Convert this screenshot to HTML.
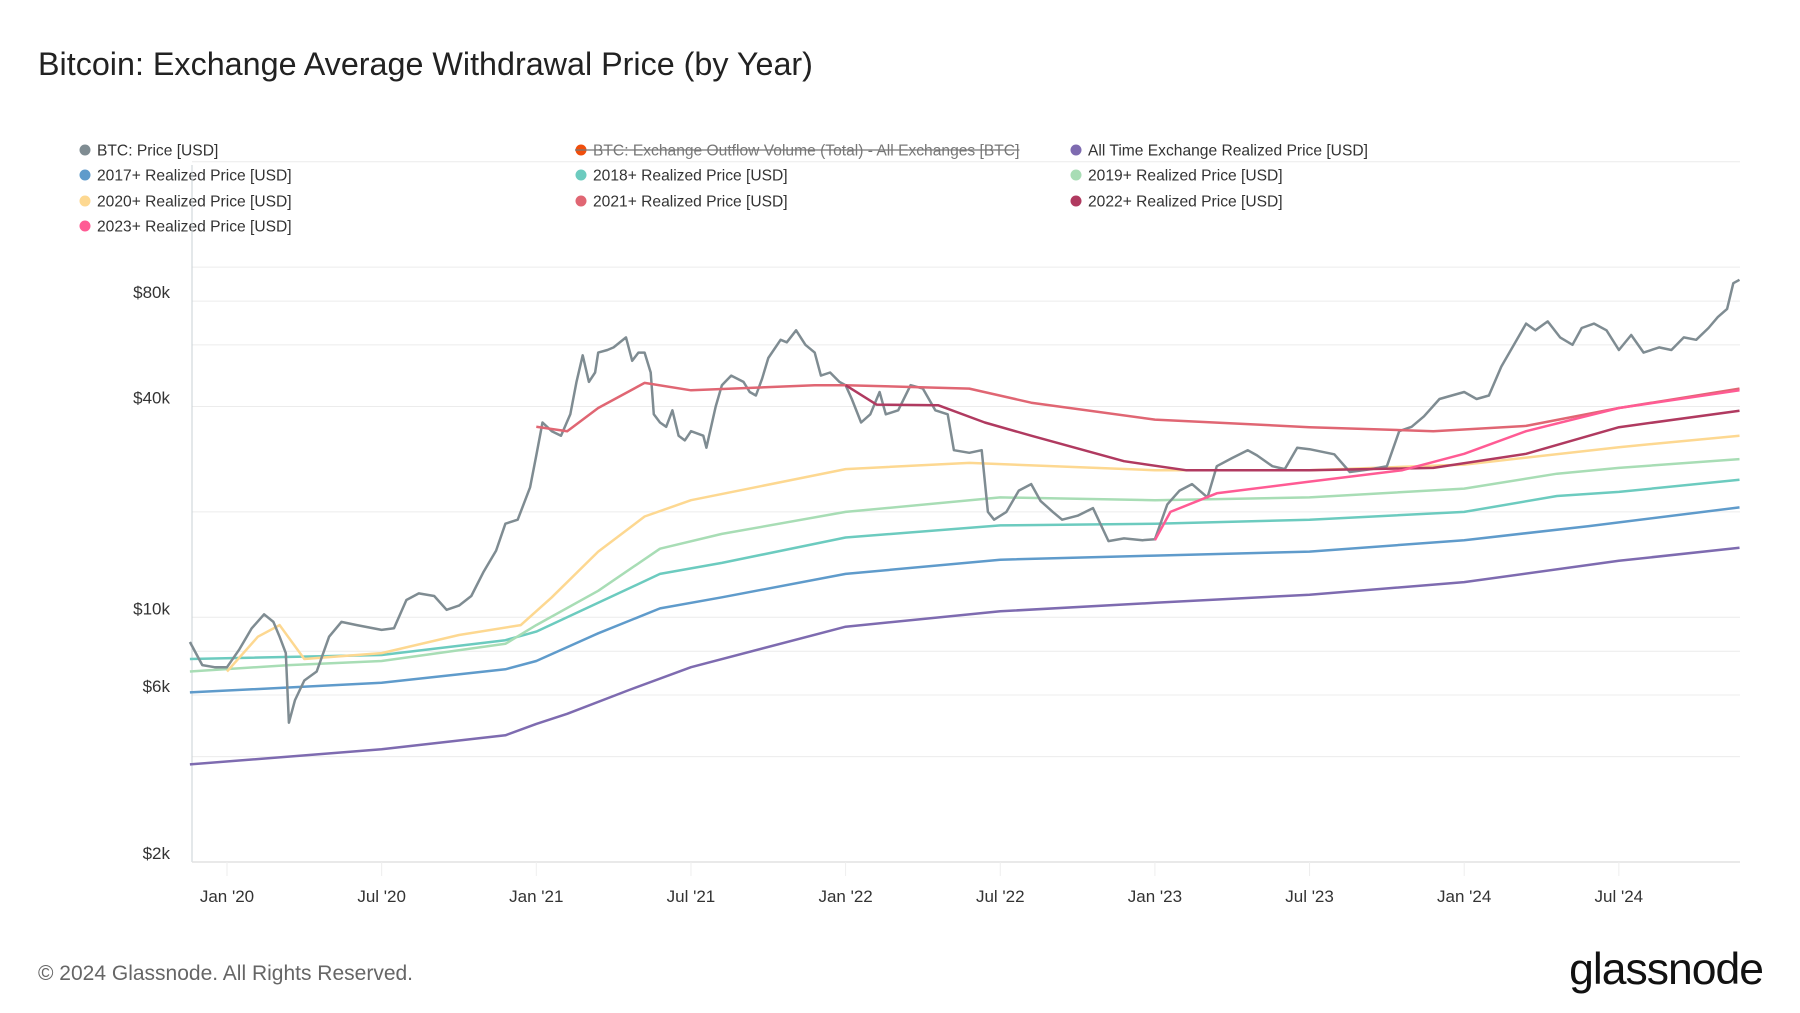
<!DOCTYPE html>
<html><head><meta charset="utf-8"><style>
body{margin:0;background:#fff;width:1800px;height:1013px;overflow:hidden;font-family:"Liberation Sans",sans-serif}
svg{display:block}
</style></head><body>
<svg id="chart" width="1800" height="1013">
<text x="38" y="75" font-size="32.3" fill="#222">Bitcoin: Exchange Average Withdrawal Price (by Year)</text>
<g id="legend"></g>
<g id="grid"></g>
<g id="plot"></g>
<g id="xaxis"></g>
<g id="yaxis"></g>
<text x="38" y="980" font-size="21" fill="#666">© 2024 Glassnode. All Rights Reserved.</text>
<text x="1763" y="984" font-size="44.5" fill="#111" text-anchor="end" letter-spacing="-1">glassnode</text>
</svg>
<script>
const xTickYears=[2020,2020.5,2021,2021.5,2022,2022.5,2023,2023.5,2024,2024.5];
const xTickLabels=["Jan '20","Jul '20","Jan '21","Jul '21","Jan '22","Jul '22","Jan '23","Jul '23","Jan '24","Jul '24"];
const yGridValues=[2000,4000,6000,8000,10000,20000,40000,60000,80000,100000,200000];
const yTickValues=[2000,6000,10000,40000,80000];
const yTickLabels=["$2k","$6k","$10k","$40k","$80k"];
const btcT=[2019.88,2019.92,2019.96,2020.0,2020.04,2020.08,2020.12,2020.15,2020.17,2020.19,2020.2,2020.22,2020.25,2020.29,2020.33,2020.37,2020.42,2020.5,2020.54,2020.58,2020.62,2020.67,2020.71,2020.75,2020.79,2020.83,2020.87,2020.9,2020.94,2020.98,2021.0,2021.02,2021.05,2021.08,2021.11,2021.13,2021.15,2021.17,2021.19,2021.2,2021.23,2021.25,2021.29,2021.31,2021.33,2021.35,2021.37,2021.38,2021.4,2021.42,2021.44,2021.46,2021.48,2021.5,2021.54,2021.55,2021.58,2021.6,2021.63,2021.67,2021.69,2021.71,2021.73,2021.75,2021.79,2021.81,2021.84,2021.87,2021.9,2021.92,2021.95,2021.98,2022.0,2022.02,2022.05,2022.08,2022.11,2022.13,2022.17,2022.21,2022.25,2022.29,2022.33,2022.35,2022.4,2022.44,2022.46,2022.48,2022.52,2022.56,2022.6,2022.63,2022.67,2022.7,2022.75,2022.8,2022.85,2022.9,2022.96,2023.0,2023.04,2023.08,2023.12,2023.17,2023.2,2023.25,2023.3,2023.33,2023.38,2023.42,2023.46,2023.5,2023.58,2023.63,2023.7,2023.75,2023.79,2023.83,2023.87,2023.92,2023.96,2024.0,2024.04,2024.08,2024.12,2024.17,2024.2,2024.23,2024.27,2024.31,2024.35,2024.38,2024.42,2024.46,2024.5,2024.54,2024.58,2024.63,2024.67,2024.71,2024.75,2024.79,2024.82,2024.85,2024.87,2024.89];
const btcV=[8500,7300,7200,7200,8100,9300,10200,9700,8800,7900,5000,5800,6600,7000,8800,9700,9500,9200,9300,11200,11700,11500,10500,10800,11500,13500,15500,18500,19000,23500,29000,36000,34000,33000,38000,47000,56000,47000,50000,57000,58000,59000,63000,54000,57000,57000,50000,38000,36000,35000,39000,33000,32000,34000,33000,30500,40000,46000,49000,47000,44000,43000,48000,55000,62000,61000,66000,60000,57000,49000,50000,47000,46000,42000,36000,38000,44000,38000,39000,46000,45000,39000,38000,30000,29500,30000,20000,19000,20000,23000,24000,21500,20000,19000,19500,20500,16500,16800,16600,16700,21000,23000,24000,22000,27000,28500,30000,29000,27000,26500,30500,30200,29200,26000,26500,27000,34000,35000,37500,42000,43000,44000,42000,43000,52000,62000,69000,66000,70000,63000,60000,67000,69000,66000,58000,64000,57000,59000,58000,63000,62000,67000,72000,76000,90000,92000];
const allT=[2019.88,2020.5,2020.9,2021.0,2021.1,2021.3,2021.5,2022.0,2022.5,2023.0,2023.5,2024.0,2024.5,2024.89];
const allV=[3800,4200,4600,4960,5300,6200,7200,9400,10400,11000,11600,12600,14500,15800];
const r17T=[2019.88,2020.5,2020.9,2021.0,2021.2,2021.4,2021.6,2022.0,2022.5,2023.0,2023.5,2024.0,2024.4,2024.89];
const r17V=[6100,6500,7100,7500,9000,10600,11400,13300,14600,15000,15400,16600,18200,20600];
const r18T=[2019.88,2020.5,2020.9,2021.0,2021.2,2021.4,2021.6,2022.0,2022.5,2023.0,2023.5,2024.0,2024.3,2024.5,2024.89];
const r18V=[7600,7800,8600,9100,11000,13300,14300,16900,18300,18500,19000,20000,22200,22800,24700];
const r19T=[2019.88,2020.2,2020.5,2020.9,2021.0,2021.2,2021.4,2021.6,2022.0,2022.5,2023.0,2023.5,2024.0,2024.3,2024.5,2024.89];
const r19V=[7000,7300,7500,8400,9500,11900,15700,17300,20000,22000,21600,22000,23300,25700,26700,28300];
const r20T=[2020.0,2020.1,2020.17,2020.25,2020.5,2020.75,2020.95,2021.05,2021.2,2021.35,2021.5,2022.0,2022.4,2023.0,2023.5,2024.0,2024.5,2024.89];
const r20V=[7000,8800,9500,7600,7900,8900,9500,11400,15400,19400,21600,26500,27600,26300,26300,27300,30600,33000];
const r21T=[2021.0,2021.1,2021.2,2021.35,2021.5,2021.9,2022.0,2022.4,2022.6,2023.0,2023.5,2023.9,2024.2,2024.5,2024.89];
const r21V=[35000,34000,39600,46700,44500,46000,46000,45000,41000,36700,34900,34000,35200,39600,45000];
const r22T=[2022.0,2022.1,2022.3,2022.45,2022.6,2022.9,2023.1,2023.5,2023.9,2024.2,2024.5,2024.89];
const r22V=[46000,40500,40300,36000,33000,27900,26300,26300,26700,29300,34900,38900];
const r23T=[2023.0,2023.05,2023.2,2023.5,2023.8,2024.0,2024.2,2024.5,2024.89];
const r23V=[16600,20000,22600,24400,26300,29300,34000,39600,44500];

const X0=192,X1=1740,YT=165,YB=862;
const x=t=>227+(t-2020)*309.3;
const y=v=>862-105.4*Math.log2(v/2000);
const NS="http://www.w3.org/2000/svg";
function mk(tag,attrs,parent){const e=document.createElementNS(NS,tag);for(const k in attrs)e.setAttribute(k,attrs[k]);parent.appendChild(e);return e;}
const grid=document.getElementById('grid'),plot=document.getElementById('plot'),xa=document.getElementById('xaxis'),ya=document.getElementById('yaxis'),lg=document.getElementById('legend');
yGridValues.forEach(v=>{const l=mk('line',{x1:X0,x2:X1,y1:y(v),y2:y(v),stroke:'#ececec','stroke-width':1},grid);

});
mk('line',{x1:X0,x2:X0,y1:YT,y2:YB,stroke:'#c8d0d4','stroke-width':1},grid);
mk('line',{x1:X0,x2:X1,y1:YB,y2:YB,stroke:'#e2e2e2','stroke-width':1.5},grid);
yTickValues.forEach((v,i)=>{const t=mk('text',{x:170,y:y(v)-3,'font-size':17,fill:'#333','text-anchor':'end'},ya);t.textContent=yTickLabels[i];

});
xTickYears.forEach((yr,i)=>{mk('line',{x1:x(yr),x2:x(yr),y1:YB,y2:YB+14,stroke:'#eee'},xa);
const t=mk('text',{x:x(yr),y:902,'font-size':17,fill:'#333','text-anchor':'middle'},xa);t.textContent=xTickLabels[i];

});
function series(T,V,color,name,w){const d=T.map((t,i)=>(i?'L':'M')+x(t).toFixed(1)+','+y(V[i]).toFixed(1)).join('');
const p=mk('path',{d:d,fill:'none',stroke:color,'stroke-width':w,'stroke-linejoin':'round'},plot);

}
series(allT,allV,'#7e6bb0','all-time-realized-line',2.5);
series(r17T,r17V,'#5f9bcb','realized-2017-line',2.5);
series(r18T,r18V,'#6ccbbf','realized-2018-line',2.5);
series(r19T,r19V,'#a8ddb5','realized-2019-line',2.5);
series(r20T,r20V,'#fdd891','realized-2020-line',2.5);
series(btcT,btcV,'#7f8c92','btc-price-line',2.5);
series(r21T,r21V,'#e06673','realized-2021-line',2.5);
series(r22T,r22V,'#b03a60','realized-2022-line',2.5);
series(r23T,r23V,'#ff5b94','realized-2023-line',2.5);
const legNames=["BTC: Price [USD]","BTC: Exchange Outflow Volume (Total) - All Exchanges [BTC]","All Time Exchange Realized Price [USD]","2017+ Realized Price [USD]","2018+ Realized Price [USD]","2019+ Realized Price [USD]","2020+ Realized Price [USD]","2021+ Realized Price [USD]","2022+ Realized Price [USD]","2023+ Realized Price [USD]"];
const legColors=['#7f8c92','#f04e0c','#7e6bb0','#5f9bcb','#6ccbbf','#a8ddb5','#fdd891','#e06673','#b03a60','#ff5b94'];
const colX=[85,581,1076],rowY=[150,175,201,226];
legNames.forEach((n,i)=>{const cx=colX[i%3],cy=rowY[Math.floor(i/3)];
const g=mk('g',{},lg);


mk('circle',{cx:cx,cy:cy,r:5.5,fill:legColors[i]},g);
const t=mk('text',{x:cx+12,y:cy+5.5,'font-size':15.6,fill:i==1?'#777':'#333'},g);t.textContent=n;
if(i==1){mk('line',{x1:cx-6,x2:cx+12+t.getComputedTextLength(),y1:cy,y2:cy,stroke:'#777','stroke-width':1.2},g);}});
</script>
</body></html>
